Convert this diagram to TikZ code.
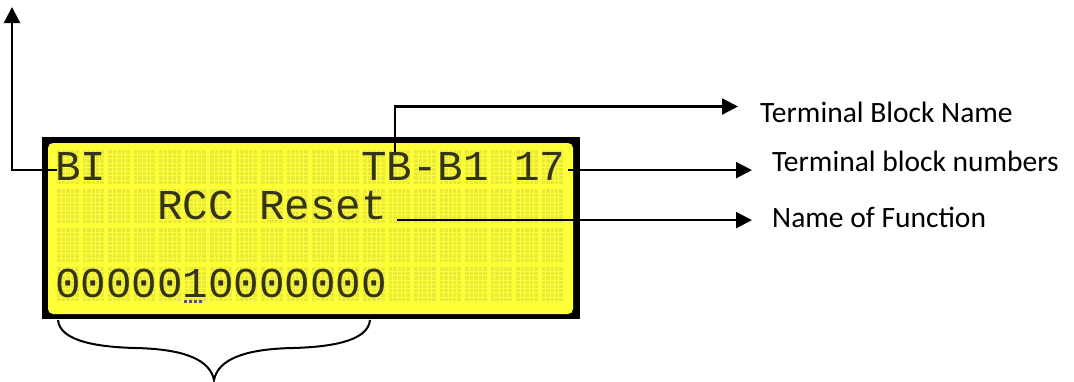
\documentclass[tikz,border=0pt]{standalone}
\usepackage{fontspec}
\setmainfont{Carlito}
\newfontfamily\lcdfont{Liberation Mono}
\usetikzlibrary{arrows.meta,calc}
\definecolor{lcdbg}{HTML}{FFFF38}
\definecolor{lcdcell}{HTML}{E9E93C}
\definecolor{lcdink}{HTML}{34341A}
\definecolor{cursorc}{HTML}{50507A}
\begin{document}
\begin{tikzpicture}[x=1pt,y=-1pt,
  lcdtxt/.style={anchor=base west, inner sep=0pt, text=lcdink, font=\lcdfont\fontsize{42.5}{42.5}\selectfont},
  lbl/.style={anchor=base west, inner sep=0pt, font=\fontsize{29.5}{29.5}\selectfont},
  conn/.style={line width=2.3pt},
  arr/.style={conn, -{Triangle[length=16pt,width=16pt]}}]
\useasboundingbox (0,0) rectangle (1074,381);
% LCD frame
\fill[black] (42,137) rectangle (580,319);
\fill[lcdbg, rounded corners=5pt] (48,143) rectangle (573,314);
% dot-matrix cells
\foreach \c in {0,...,19}{
  \foreach \r in {0,...,3}{
    \pgfmathsetmacro\xa{57+25.5*\c}
    \pgfmathsetmacro\ya{150+39*\r}
    \fill[lcdcell] (\xa,\ya) rectangle ++(21.5,34.4);
    \foreach \k in {1,...,4}{\draw[lcdbg,line width=0.8pt] (\xa+\k*4.3,\ya) -- ++(0,34.4);}
    \foreach \k in {1,...,7}{\draw[lcdbg,line width=0.8pt] (\xa,\ya+\k*4.3) -- ++(21.5,0);}
  }}
% LCD text
\node[lcdtxt] (bi) at (55,180.1) {BI};
\node[lcdtxt] (tb) at (361,180.1) {TB-B1 17};
\node[lcdtxt] (fn) at (157,219.1) {RCC Reset};
\node[lcdtxt] (bits) at (55,297.1) {0000010000000};
% cursor
\foreach \k in {0,...,3}{\fill[cursorc] (183.5+\k*5,300) rectangle ++(3,3);}
% labels
\node[lbl] (lname) at (760,122) {Terminal Block Name};
\node[lbl] (lnum) at (772,171) {Terminal block numbers};
\node[lbl] (lfun) at (772,227) {Name of Function};
% connectors
\coordinate (up) at (12,7);
\coordinate (s1) at ($(bi.base west)+(2,-10)$);
\draw[arr] (s1) -| (up);
\coordinate (s2) at ($(tb.base west)+(34,-28)$);
\coordinate (t2) at ($(lname.base west)+(-22,-15.5)$);
\draw[arr] (s2) |- (t2);
\coordinate (s3) at ($(tb.base east)+(3,-10)$);
\coordinate (t3) at ($(lnum.base west)+(-20,-1)$);
\draw[arr] (s3) -- (s3 -| t3);
\coordinate (s4) at ($(fn.base east)+(10,1)$);
\coordinate (t4) at ($(lfun.base west)+(-20,-7)$);
\draw[arr] (s4) -- (s4 -| t4);
% brace
\draw[line width=2pt] (58,320) .. controls (60,342) and (100,347) .. (135,348)
  .. controls (185,349) and (210,360) .. (214,380)
  .. controls (218,360) and (243,349) .. (293,348)
  .. controls (328,347) and (368,342) .. (370,320);
\end{tikzpicture}
\end{document}
